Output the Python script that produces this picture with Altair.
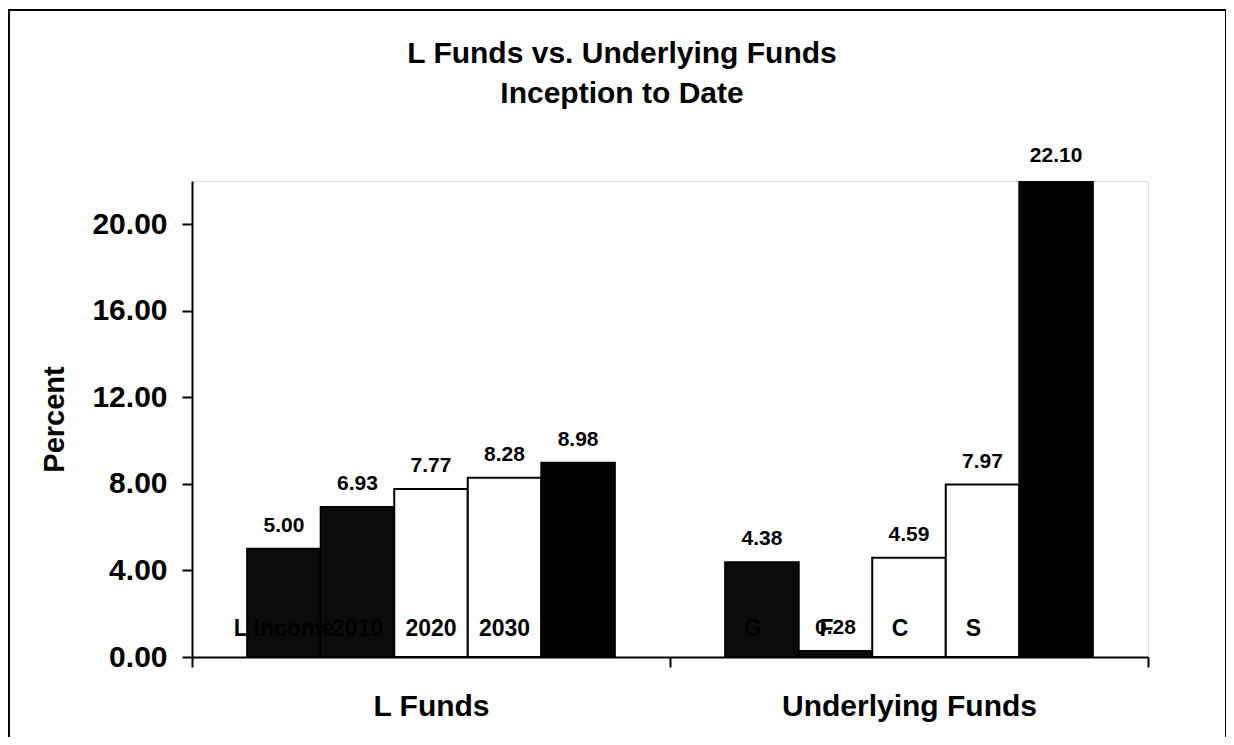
import altair as alt
import pandas as pd

# ---- data ----
groups = ["L Funds"] * 5 + ["Underlying Funds"] * 5
series = ["L Income", "2010", "2020", "2030", "2040", "G", "F", "C", "S", "I"]
positions = [1, 2, 3, 4, 5, 1, 2, 3, 4, 5]
values = [5.00, 6.93, 7.77, 8.28, 8.98, 4.38, 0.28, 4.59, 7.97, 22.10]
group_order = ["L Funds", "Underlying Funds"]
y_ticks = [0, 4, 8, 12, 16, 20]

# styles
bar_colors = ["#0b0b0b", "#0b0b0b", "#ffffff", "#ffffff", "#000000"]
FONT = "Liberation Sans"

df = pd.DataFrame({"group": groups, "series": series, "pos": positions, "value": values})

x_enc = alt.X(
    "group:N",
    sort=group_order,
    scale=alt.Scale(paddingInner=0, paddingOuter=0),
    axis=alt.Axis(
        title=None,
        labelAngle=0,
        labelFont=FONT,
        labelFontSize=30,
        labelFontWeight="bold",
        labelColor="black",
        labelPadding=24,
        labelLimit=500,
        tickBand="extent",
        tickSize=10,
        tickWidth=2,
        tickColor="black",
        domainColor="black",
        domainWidth=2,
    ),
)
xo_enc = alt.XOffset("pos:O", scale=alt.Scale(paddingOuter=0.75, paddingInner=0))

y_scale = alt.Scale(domain=[0, 22], nice=False)

base = alt.Chart(df)

bars = base.mark_bar(stroke="black", strokeWidth=2, clip=True).encode(
    x=x_enc,
    xOffset=xo_enc,
    y=alt.Y(
        "value:Q",
        scale=y_scale,
        axis=alt.Axis(
            title="Percent",
            values=y_ticks,
            format=".2f",
            grid=False,
            labelFont=FONT,
            labelFontSize=30,
            labelFontWeight="bold",
            labelColor="black",
            labelPadding=15,
            tickSize=10,
            tickWidth=2,
            tickColor="black",
            domainColor="black",
            domainWidth=2,
            titleFont=FONT,
            titleFontSize=29,
            titleFontWeight="bold",
            titleColor="black",
            titlePadding=22,
        ),
    ),
    color=alt.Color("pos:O", scale=alt.Scale(domain=[1, 2, 3, 4, 5], range=bar_colors), legend=None),
)

value_labels = base.mark_text(
    font=FONT, fontSize=21, fontWeight="bold", color="black", baseline="bottom", dy=-13
).encode(
    x=alt.X("group:N", sort=group_order),
    xOffset=xo_enc,
    y=alt.Y("value:Q", scale=y_scale),
    text=alt.Text("value:Q", format=".2f"),
)

name_labels_l = base.transform_filter(alt.datum.group == "L Funds").mark_text(
    font=FONT, fontSize=23, fontWeight="bold", color="black", baseline="middle"
).encode(
    x=alt.X("group:N", sort=group_order),
    xOffset=xo_enc,
    y=alt.datum(1.3),
    text="series:N",
)

name_labels_u = base.transform_filter(alt.datum.group == "Underlying Funds").mark_text(
    font=FONT, fontSize=23, fontWeight="bold", color="black", baseline="middle", dx=-9
).encode(
    x=alt.X("group:N", sort=group_order),
    xOffset=xo_enc,
    y=alt.datum(1.3),
    text="series:N",
)

frame = alt.Chart(pd.DataFrame({"k": [0]})).mark_rect(
    fillOpacity=0, stroke="black", strokeWidth=2, clip=False
).encode(
    x=alt.value(-183), x2=alt.value(1034), y=alt.value(-171), y2=alt.value(600)
)

chart = (
    alt.layer(bars, value_labels, name_labels_l, name_labels_u, frame)
    .properties(
        width=956,
        height=476,
        autosize=alt.AutoSizeParams(type="none"),
        padding={"left": 184, "top": 173, "right": 78, "bottom": 80},
        title=alt.TitleParams(
            text=["L Funds vs. Underlying Funds", "Inception to Date"],
            font=FONT,
            fontSize=30,
            fontWeight="bold",
            color="black",
            anchor="middle",
            dx=-48,
            offset=0,
            dy=100,
            lineHeight=40,
        ),
    )
    .configure_view(stroke="black", strokeWidth=2)
    .configure(background="white")
)

chart.save("out.html", embed_options={"renderer": "svg", "actions": False})
